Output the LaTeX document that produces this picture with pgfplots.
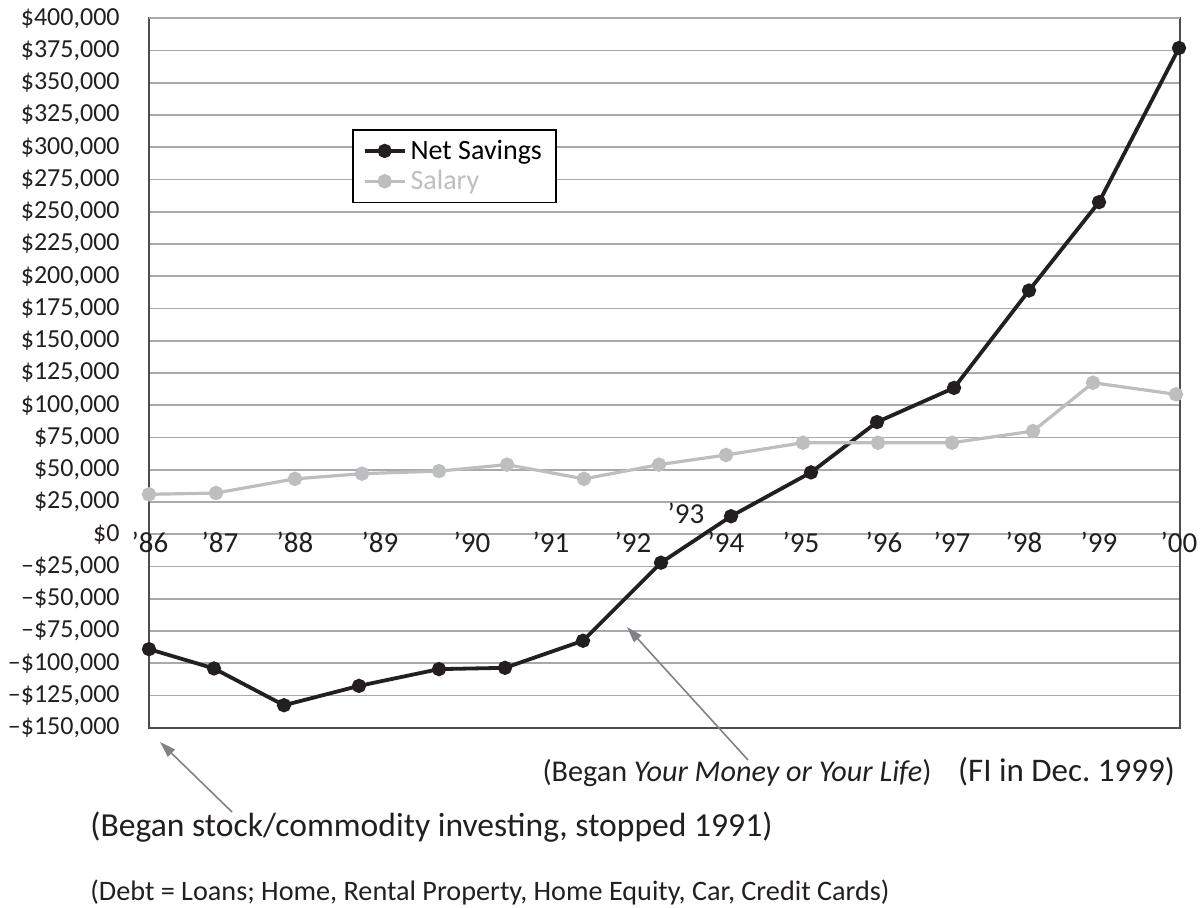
\documentclass[border=0pt]{standalone}
\usepackage{fontspec}
\setmainfont{Carlito}
\usepackage{pgfplots}
\pgfplotsset{compat=1.18}
\usetikzlibrary{arrows.meta}
\definecolor{netc}{HTML}{231F20}
\definecolor{salc}{HTML}{BCBEC0}
\definecolor{gridc}{HTML}{A7A9AC}
\definecolor{axc}{HTML}{4D4D4F}
\definecolor{arrc}{HTML}{808285}
\begin{document}
\begin{tikzpicture}
\useasboundingbox (-74.5pt,-89.6pt) rectangle (526.5pt,363.9pt);
\begin{axis}[
  at={(0pt,0pt)}, anchor=south west,
  scale only axis, width=515.5pt, height=354.75pt,
  xmin=149, xmax=1180, ymin=-150000, ymax=400000,
  xtick=\empty,
  ytick={-150000,-125000,-100000,-75000,-50000,-25000,0,25000,50000,75000,100000,125000,150000,175000,200000,225000,250000,275000,300000,325000,350000,375000,400000},
  yticklabels={{–\$150,000},{–\$125,000},{–\$100,000},{–\$75,000},{–\$50,000},{–\$25,000},{\$0},{\$25,000},{\$50,000},{\$75,000},{\$100,000},{\$125,000},{\$150,000},{\$175,000},{\$200,000},{\$225,000},{\$250,000},{\$275,000},{\$300,000},{\$325,000},{\$350,000},{\$375,000},{\$400,000}},
  yticklabel style={font=\fontsize{13}{15}\selectfont, anchor=east, inner sep=0pt, xshift=-14.5pt, text=netc},
  major tick length=0pt,
  ymajorgrids, grid style={gridc, line width=0.9pt},
  axis line style={axc, line width=1pt},
  clip=false,
  legend cell align=left,
  legend image code/.code={\draw[mark repeat=2,mark phase=2,#1] plot coordinates {(0pt,0pt) (10pt,0pt) (20pt,0pt)};},
  legend style={at={(rel axis cs:0.1969,0.844)}, anchor=north west, draw=black, line width=0.8pt, font=\fontsize{14}{16}\selectfont, inner xsep=5pt, inner ysep=3pt, row sep=0pt},
]
\addplot[netc, line width=1.9pt, mark=*, mark size=2.6pt, mark options={fill=netc, draw=netc}] coordinates {
(149,-89000) (214,-104000) (284,-132500) (359,-117500) (439,-104500) (505,-103500) (583,-82500) (661,-22000) (731,14000) (811,48000) (877,87000) (954,113500) (1029,189000) (1099,257500) (1179,377000)};
\addlegendentry{Net Savings}
\addplot[salc, line width=1.6pt, mark=*, mark size=2.8pt, mark options={fill=salc, draw=salc}] coordinates {
(149,31000) (216,32000) (295,43000) (362,47000) (439,49000) (507,54000) (584,43000) (659,54000) (726,61500) (803,71000) (878,71000) (952,71000) (1033,80000) (1093,117500) (1176,108500)};
\addlegendentry{\textcolor{salc}{Salary}}
\draw[gridc, line width=0.9pt] (rel axis cs:0,1) -- (rel axis cs:1,1);
\begin{scope}[every node/.style={font=\fontsize{14.5}{16}\selectfont, text=netc, anchor=base, inner sep=0pt}]
\node at (axis cs:150,-14260) {’86};
\node at (axis cs:220,-14260) {’87};
\node at (axis cs:295,-14260) {’88};
\node at (axis cs:380,-14260) {’89};
\node at (axis cs:472,-14260) {’90};
\node at (axis cs:551,-14260) {’91};
\node at (axis cs:633,-14260) {’92};
\node at (axis cs:686,8000) {’93};
\node at (axis cs:726,-14260) {’94};
\node at (axis cs:801,-14260) {’95};
\node at (axis cs:884,-14260) {’96};
\node at (axis cs:952,-14260) {’97};
\node at (axis cs:1024,-14260) {’98};
\node at (axis cs:1099,-14260) {’99};
\node at (axis cs:1179,-14260) {’00};
\end{scope}
\end{axis}
\draw[arrc, line width=0.8pt, -{Triangle[length=8pt,width=5pt]}] (41.5pt,-42.1pt) -- (5.5pt,-7.1pt);
\draw[arrc, line width=0.8pt, -{Triangle[length=8pt,width=5pt]}] (299.5pt,-16.1pt) -- (239pt,50.4pt);
\node[anchor=base east, inner sep=0pt, text=netc, font=\fontsize{15.1}{17}\selectfont] at (391.5pt,-26.6pt) {(Began \textit{Your Money or Your Life})};
\node[anchor=base, inner sep=0pt, text=netc, font=\fontsize{16.5}{18}\selectfont] at (458.75pt,-26.6pt) {(FI in Dec.\ 1999)};
\node[anchor=base west, inner sep=0pt, text=netc, font=\fontsize{16.8}{18}\selectfont] at (-29.5pt,-54.45pt) {(Began stock/commodity investing, stopped 1991)};
\node[anchor=base west, inner sep=0pt, text=netc, font=\fontsize{14.1}{16}\selectfont] at (-29.5pt,-86.1pt) {(Debt = Loans; Home, Rental Property, Home Equity, Car, Credit Cards)};
\end{tikzpicture}
\end{document}
